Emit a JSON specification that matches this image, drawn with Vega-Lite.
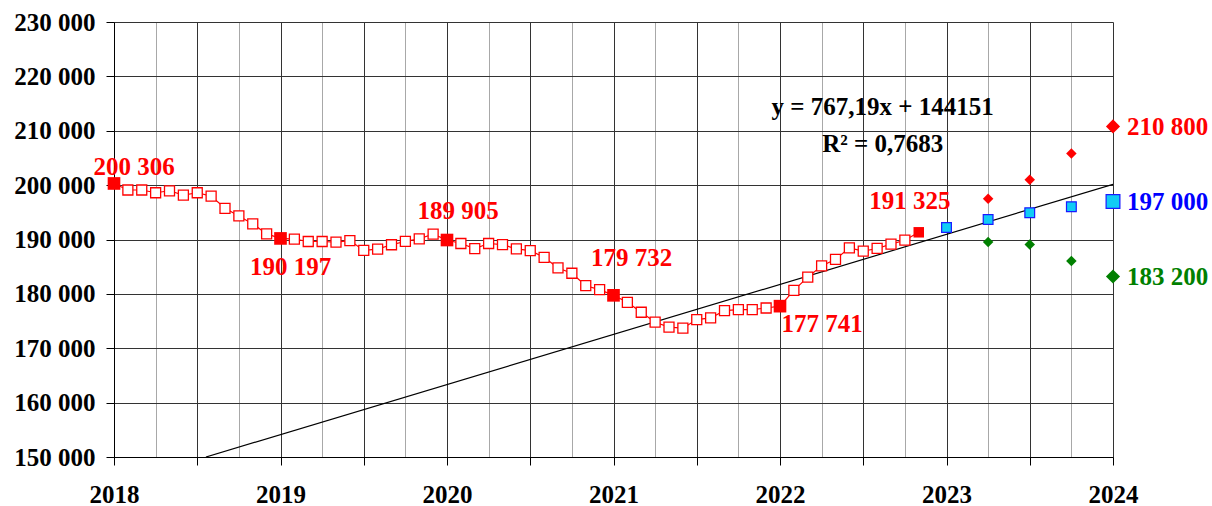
{
  "$schema": "https://vega.github.io/schema/vega-lite/v6.json",
  "autosize": "none",
  "width": 999,
  "height": 435,
  "padding": {"left": 114, "top": 22, "right": 99, "bottom": 49},
  "background": "white",
  "config": {
    "view": {"stroke": null},
    "locale": {"number": {"decimal": ",", "thousands": " ", "grouping": [3], "currency": ["", ""]}},
    "axis": {
      "labelFont": "Liberation Serif",
      "labelFontWeight": "bold",
      "labelFontSize": 25,
      "labelColor": "black",
      "domainColor": "black",
      "tickColor": "black",
      "tickSize": 8,
      "title": null
    },
    "text": {"font": "Liberation Serif", "fontWeight": "bold", "fontSize": 25}
  },
  "datasets": {
    "monthly": [
      {"m": 0, "v": 200306, "kind": "key"},
      {"m": 1, "v": 199100, "kind": "open"},
      {"m": 2, "v": 199100, "kind": "open"},
      {"m": 3, "v": 198600, "kind": "open"},
      {"m": 4, "v": 198960, "kind": "open"},
      {"m": 5, "v": 198170, "kind": "open"},
      {"m": 6, "v": 198600, "kind": "open"},
      {"m": 7, "v": 197990, "kind": "open"},
      {"m": 8, "v": 195740, "kind": "open"},
      {"m": 9, "v": 194330, "kind": "open"},
      {"m": 10, "v": 192870, "kind": "open"},
      {"m": 11, "v": 191040, "kind": "open"},
      {"m": 12, "v": 190197, "kind": "key"},
      {"m": 13, "v": 190070, "kind": "open"},
      {"m": 14, "v": 189630, "kind": "open"},
      {"m": 15, "v": 189630, "kind": "open"},
      {"m": 16, "v": 189520, "kind": "open"},
      {"m": 17, "v": 189800, "kind": "open"},
      {"m": 18, "v": 187990, "kind": "open"},
      {"m": 19, "v": 188240, "kind": "open"},
      {"m": 20, "v": 189030, "kind": "open"},
      {"m": 21, "v": 189640, "kind": "open"},
      {"m": 22, "v": 190130, "kind": "open"},
      {"m": 23, "v": 190990, "kind": "open"},
      {"m": 24, "v": 189905, "kind": "key"},
      {"m": 25, "v": 189260, "kind": "open"},
      {"m": 26, "v": 188330, "kind": "open"},
      {"m": 27, "v": 189260, "kind": "open"},
      {"m": 28, "v": 189070, "kind": "open"},
      {"m": 29, "v": 188280, "kind": "open"},
      {"m": 30, "v": 187960, "kind": "open"},
      {"m": 31, "v": 186730, "kind": "open"},
      {"m": 32, "v": 184770, "kind": "open"},
      {"m": 33, "v": 183790, "kind": "open"},
      {"m": 34, "v": 181500, "kind": "open"},
      {"m": 35, "v": 180770, "kind": "open"},
      {"m": 36, "v": 179732, "kind": "key"},
      {"m": 37, "v": 178450, "kind": "open"},
      {"m": 38, "v": 176620, "kind": "open"},
      {"m": 39, "v": 174790, "kind": "open"},
      {"m": 40, "v": 173880, "kind": "open"},
      {"m": 41, "v": 173690, "kind": "open"},
      {"m": 42, "v": 175280, "kind": "open"},
      {"m": 43, "v": 175580, "kind": "open"},
      {"m": 44, "v": 176920, "kind": "open"},
      {"m": 45, "v": 177100, "kind": "open"},
      {"m": 46, "v": 177100, "kind": "open"},
      {"m": 47, "v": 177400, "kind": "open"},
      {"m": 48, "v": 177741, "kind": "key"},
      {"m": 49, "v": 180650, "kind": "open"},
      {"m": 50, "v": 183080, "kind": "open"},
      {"m": 51, "v": 185140, "kind": "open"},
      {"m": 52, "v": 186350, "kind": "open"},
      {"m": 53, "v": 188470, "kind": "open"},
      {"m": 54, "v": 187860, "kind": "open"},
      {"m": 55, "v": 188350, "kind": "open"},
      {"m": 56, "v": 189140, "kind": "open"},
      {"m": 57, "v": 189870, "kind": "open"},
      {"m": 58, "v": 191325, "kind": "last"}
    ],
    "forecast": [
      {"m": 60, "v": 192200, "series": "central"},
      {"m": 63, "v": 193680, "series": "central"},
      {"m": 66, "v": 194930, "series": "central"},
      {"m": 69, "v": 196040, "series": "central"},
      {"m": 72, "v": 197000, "series": "central"},
      {"m": 63, "v": 197480, "series": "high"},
      {"m": 66, "v": 200990, "series": "high"},
      {"m": 69, "v": 205800, "series": "high"},
      {"m": 72, "v": 210800, "series": "high"},
      {"m": 63, "v": 189560, "series": "low"},
      {"m": 66, "v": 189070, "series": "low"},
      {"m": 69, "v": 186040, "series": "low"},
      {"m": 72, "v": 183200, "series": "low"}
    ],
    "trend": [
      {"m": 6.624, "v": 150000},
      {"m": 72, "v": 200157}
    ],
    "notes": [
      {"m": 55.4, "v": 214370, "text": "y = 767,19x + 144151"},
      {"m": 55.4, "v": 207560, "text": "R² = 0,7683"}
    ]
  },
  "encoding": {
    "x": {
      "field": "m", "type": "quantitative",
      "scale": {"domain": [0, 72], "nice": false, "zero": false},
      "axis": {
        "values": [0, 3, 6, 9, 12, 15, 18, 21, 24, 27, 30, 33, 36, 39, 42, 45, 48, 51, 54, 57, 60, 63, 66, 69, 72],
        "grid": true,
        "gridColor": {"condition": {"test": "datum.value % 6 === 0", "value": "#333333"}, "value": "#a8a8a8"},
        "gridWidth": 1,
        "tickOpacity": {"condition": {"test": "datum.value % 6 === 0", "value": 1}, "value": 0},
        "labelExpr": "datum.value % 12 === 0 ? '' + (2018 + datum.value / 12) : ''",
        "labelOverlap": false,
        "labelFlush": false,
        "labelBound": false,
        "labelPadding": 17,
        "labelBaseline": "top"
      }
    },
    "y": {
      "field": "v", "type": "quantitative",
      "scale": {"domain": [150000, 230000], "nice": false, "zero": false},
      "axis": {
        "values": [150000, 160000, 170000, 180000, 190000, 200000, 210000, 220000, 230000],
        "format": ",d",
        "grid": true,
        "gridColor": "#333333",
        "labelPadding": 11
      }
    }
  },
  "layer": [
    {
      "data": {"name": "trend"},
      "mark": {"type": "line", "color": "black", "strokeWidth": 1.2, "clip": true}
    },
    {
      "data": {"name": "monthly"},
      "mark": {"type": "line", "color": "#ff0000", "strokeWidth": 1.2}
    },
    {
      "data": {"name": "monthly"},
      "transform": [{"filter": "datum.kind === 'open'"}],
      "mark": {"type": "point", "shape": "square", "size": 100, "filled": true, "fill": "white", "stroke": "#ff0000", "strokeWidth": 1.3, "opacity": 1}
    },
    {
      "data": {"name": "monthly"},
      "transform": [{"filter": "datum.kind === 'key'"}],
      "mark": {"type": "point", "shape": "square", "size": 160, "filled": true, "color": "#ff0000", "opacity": 1}
    },
    {
      "data": {"name": "monthly"},
      "transform": [{"filter": "datum.kind === 'last'"}],
      "mark": {"type": "point", "shape": "square", "size": 110, "filled": true, "color": "#ff0000", "opacity": 1}
    },
    {
      "data": {"name": "forecast"},
      "transform": [{"filter": "datum.series === 'central' && datum.m < 72"}],
      "mark": {"type": "point", "shape": "square", "size": 95, "filled": true, "fill": "#11ccf5", "stroke": "#1a1aff", "strokeWidth": 1.2, "opacity": 1}
    },
    {
      "data": {"name": "forecast"},
      "transform": [{"filter": "datum.series === 'central' && datum.m === 72"}],
      "mark": {"type": "point", "shape": "square", "size": 190, "filled": true, "fill": "#11ccf5", "stroke": "#1a1aff", "strokeWidth": 1.2, "opacity": 1}
    },
    {
      "data": {"name": "forecast"},
      "transform": [{"filter": "datum.series === 'high' && datum.m < 72"}],
      "mark": {"type": "point", "shape": "diamond", "size": 110, "filled": true, "color": "#ff0000", "opacity": 1}
    },
    {
      "data": {"name": "forecast"},
      "transform": [{"filter": "datum.series === 'high' && datum.m === 72"}],
      "mark": {"type": "point", "shape": "diamond", "size": 200, "filled": true, "color": "#ff0000", "opacity": 1}
    },
    {
      "data": {"name": "forecast"},
      "transform": [{"filter": "datum.series === 'low' && datum.m < 72"}],
      "mark": {"type": "point", "shape": "diamond", "size": 110, "filled": true, "color": "#008000", "opacity": 1}
    },
    {
      "data": {"name": "forecast"},
      "transform": [{"filter": "datum.series === 'low' && datum.m === 72"}],
      "mark": {"type": "point", "shape": "diamond", "size": 200, "filled": true, "color": "#008000", "opacity": 1}
    },
    {
      "data": {"name": "monthly"},
      "transform": [{"filter": "datum.m === 0"}],
      "mark": {"type": "text", "color": "#ff0000", "align": "center", "baseline": "middle", "dx": 20, "dy": -16},
      "encoding": {"text": {"field": "v", "format": ",d"}}
    },
    {
      "data": {"name": "monthly"},
      "transform": [{"filter": "datum.m === 12"}],
      "mark": {"type": "text", "color": "#ff0000", "align": "center", "baseline": "middle", "dx": 10, "dy": 29},
      "encoding": {"text": {"field": "v", "format": ",d"}}
    },
    {
      "data": {"name": "monthly"},
      "transform": [{"filter": "datum.m === 24"}],
      "mark": {"type": "text", "color": "#ff0000", "align": "center", "baseline": "middle", "dx": 11, "dy": -29},
      "encoding": {"text": {"field": "v", "format": ",d"}}
    },
    {
      "data": {"name": "monthly"},
      "transform": [{"filter": "datum.m === 36"}],
      "mark": {"type": "text", "color": "#ff0000", "align": "center", "baseline": "middle", "dx": 18, "dy": -37},
      "encoding": {"text": {"field": "v", "format": ",d"}}
    },
    {
      "data": {"name": "monthly"},
      "transform": [{"filter": "datum.m === 48"}],
      "mark": {"type": "text", "color": "#ff0000", "align": "center", "baseline": "middle", "dx": 42, "dy": 18},
      "encoding": {"text": {"field": "v", "format": ",d"}}
    },
    {
      "data": {"name": "monthly"},
      "transform": [{"filter": "datum.m === 58"}],
      "mark": {"type": "text", "color": "#ff0000", "align": "center", "baseline": "middle", "dx": -9, "dy": -31},
      "encoding": {"text": {"field": "v", "format": ",d"}}
    },
    {
      "data": {"name": "forecast"},
      "transform": [{"filter": "datum.m === 72"}],
      "mark": {"type": "text", "align": "left", "baseline": "middle", "dx": 14, "dy": 1},
      "encoding": {
        "text": {"field": "v", "format": ",d"},
        "color": {"field": "series", "type": "nominal", "legend": null,
          "scale": {"domain": ["high", "central", "low"], "range": ["#ff0000", "#0000ff", "#008000"]}}
      }
    },
    {
      "data": {"name": "notes"},
      "mark": {"type": "text", "color": "black", "align": "center", "baseline": "middle"},
      "encoding": {"text": {"field": "text"}}
    }
  ]
}
